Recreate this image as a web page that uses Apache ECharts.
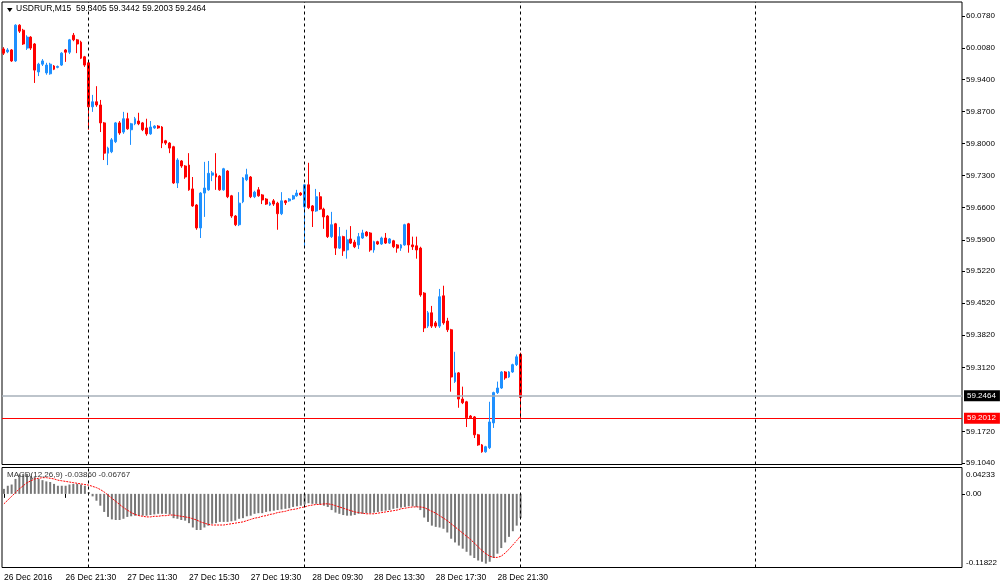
<!DOCTYPE html>
<html>
<head>
<meta charset="utf-8">
<script src="https://cdn.jsdelivr.net/npm/echarts@6/dist/echarts.min.js"></script>
<style>
html,body{margin:0;padding:0;background:#fff;}
#c{width:1000px;height:588px;}
</style>
</head>
<body>
<div id="c"></div>
<script>
// ---------- DATA ----------
const symbolTitle = 'USDRUR,M15  59.3405 59.3442 59.2003 59.2464';
const macdTitle = 'MACD(12,26,9) -0.03860 -0.06767';

// candles: [open, close, low, high]
const candles = [
[60.006,59.997,59.993,60.010],[60.000,60.004,59.997,60.008],[60.004,59.980,59.978,60.006],[59.980,60.058,59.978,60.060],
[60.058,60.045,60.041,60.060],[60.047,60.017,60.015,60.050],[60.008,60.032,60.004,60.036],[60.032,60.008,60.004,60.034],
[60.017,59.960,59.932,60.019],[59.956,59.973,59.947,59.976],[59.973,59.980,59.969,59.984],[59.954,59.971,59.950,59.976],
[59.952,59.973,59.950,59.976],[59.969,59.962,59.960,59.971],[59.966,59.968,59.964,59.970],[59.971,59.997,59.969,59.999],
[60.004,59.999,59.978,60.006],[59.999,60.026,59.995,60.028],[60.036,60.026,60.023,60.041],[60.026,60.017,59.997,60.028],
[60.021,59.986,59.984,60.024],[59.989,59.971,59.967,59.991],[59.976,59.880,59.830,59.978],[59.880,59.891,59.869,59.906],
[59.891,59.884,59.880,59.925],[59.884,59.845,59.825,59.895],[59.845,59.779,59.764,59.847],[59.779,59.790,59.753,59.793],
[59.782,59.808,59.779,59.812],[59.804,59.845,59.801,59.847],[59.845,59.823,59.819,59.849],[59.825,59.854,59.821,59.869],
[59.854,59.832,59.830,59.867],[59.830,59.843,59.797,59.845],[59.843,59.854,59.840,59.858],[59.849,59.843,59.840,59.867],
[59.845,59.830,59.827,59.847],[59.834,59.821,59.817,59.854],[59.821,59.836,59.819,59.849],[59.834,59.838,59.832,59.840],
[59.838,59.834,59.832,59.840],[59.836,59.801,59.790,59.838],[59.806,59.801,59.797,59.808],[59.801,59.790,59.779,59.803],
[59.793,59.714,59.712,59.795],[59.714,59.764,59.703,59.768],[59.762,59.751,59.747,59.764],[59.751,59.727,59.723,59.753],
[59.753,59.699,59.697,59.779],[59.701,59.664,59.662,59.727],[59.666,59.616,59.612,59.668],[59.616,59.692,59.594,59.694],
[59.692,59.703,59.640,59.760],[59.699,59.735,59.697,59.762],[59.731,59.736,59.718,59.740],[59.734,59.727,59.699,59.779],
[59.729,59.699,59.697,59.731],[59.699,59.745,59.697,59.747],[59.740,59.684,59.681,59.742],[59.686,59.642,59.638,59.688],
[59.642,59.623,59.620,59.644],[59.623,59.670,59.620,59.694],[59.673,59.725,59.670,59.727],[59.721,59.732,59.718,59.745],
[59.727,59.684,59.681,59.729],[59.684,59.694,59.681,59.697],[59.699,59.686,59.684,59.705],[59.688,59.677,59.668,59.690],
[59.679,59.668,59.666,59.681],[59.666,59.670,59.664,59.673],[59.675,59.668,59.664,59.679],[59.670,59.647,59.612,59.673],
[59.647,59.675,59.644,59.694],[59.675,59.671,59.666,59.677],[59.675,59.679,59.673,59.681],[59.679,59.686,59.677,59.688],
[59.686,59.692,59.684,59.699],[59.692,59.688,59.686,59.694],[59.662,59.710,59.574,59.712],[59.710,59.660,59.657,59.758],
[59.664,59.653,59.618,59.666],[59.653,59.684,59.651,59.701],[59.684,59.657,59.655,59.694],[59.657,59.640,59.614,59.660],
[59.642,59.597,59.594,59.644],[59.597,59.623,59.594,59.651],[59.625,59.572,59.557,59.627],[59.572,59.597,59.570,59.618],
[59.597,59.566,59.555,59.599],[59.568,59.590,59.549,59.612],[59.592,59.583,59.581,59.620],[59.585,59.575,59.572,59.590],
[59.579,59.597,59.570,59.605],[59.594,59.605,59.592,59.612],[59.607,59.599,59.597,59.609],[59.605,59.568,59.564,59.607],
[59.568,59.586,59.562,59.588],[59.586,59.581,59.579,59.588],[59.581,59.594,59.579,59.597],[59.594,59.583,59.581,59.605],
[59.583,59.592,59.581,59.594],[59.588,59.575,59.572,59.590],[59.579,59.572,59.562,59.581],[59.572,59.579,59.566,59.581],
[59.579,59.623,59.577,59.625],[59.625,59.579,59.562,59.627],[59.579,59.575,59.568,59.597],[59.577,59.568,59.549,59.597],
[59.572,59.470,59.466,59.575],[59.474,59.398,59.389,59.476],[59.402,59.431,59.398,59.435],[59.431,59.402,59.398,59.446],
[59.409,59.402,59.398,59.413],[59.402,59.466,59.398,59.483],[59.468,59.409,59.405,59.490],[59.413,59.394,59.389,59.420],
[59.394,59.291,59.259,59.396],[59.281,59.300,59.278,59.346],[59.300,59.243,59.224,59.302],[59.243,59.235,59.232,59.270],
[59.237,59.202,59.182,59.239],[59.206,59.202,59.200,59.208],[59.204,59.165,59.158,59.206],[59.165,59.143,59.141,59.167],
[59.143,59.128,59.126,59.145],[59.128,59.139,59.126,59.141],[59.137,59.193,59.134,59.237],[59.191,59.257,59.180,59.259],
[59.257,59.267,59.254,59.281],[59.267,59.302,59.265,59.304],[59.302,59.289,59.285,59.304],[59.291,59.302,59.289,59.304],
[59.302,59.318,59.300,59.320],[59.318,59.335,59.315,59.340],[59.3405,59.2464,59.2003,59.3442]
];

const macdHist = [
0.008,0.013,0.015,0.024,0.031,0.032,0.032,0.029,0.027,0.024,
0.022,0.020,0.019,0.016,0.013,0.013,0.013,0.015,0.016,0.016,
0.015,0.013,0.003,-0.004,-0.011,-0.019,-0.029,-0.037,-0.041,-0.042,
-0.042,-0.040,-0.037,-0.036,-0.035,-0.035,-0.035,-0.035,-0.034,-0.033,
-0.032,-0.032,-0.032,-0.033,-0.039,-0.040,-0.042,-0.043,-0.047,-0.054,
-0.058,-0.058,-0.054,-0.051,-0.048,-0.047,-0.045,-0.045,-0.045,-0.044,
-0.043,-0.040,-0.039,-0.036,-0.035,-0.032,-0.031,-0.031,-0.029,-0.028,
-0.027,-0.026,-0.025,-0.024,-0.023,-0.021,-0.020,-0.019,-0.017,-0.015,
-0.016,-0.016,-0.017,-0.019,-0.021,-0.026,-0.030,-0.032,-0.034,-0.035,
-0.035,-0.034,-0.032,-0.032,-0.031,-0.031,-0.030,-0.029,-0.028,-0.027,
-0.026,-0.024,-0.023,-0.022,-0.021,-0.020,-0.020,-0.021,-0.026,-0.038,
-0.045,-0.051,-0.053,-0.054,-0.056,-0.062,-0.072,-0.078,-0.083,-0.088,
-0.093,-0.099,-0.103,-0.107,-0.109,-0.112,-0.109,-0.103,-0.096,-0.087,
-0.078,-0.069,-0.060,-0.051,-0.0386
];

const macdSignal = [
-0.016,-0.010,-0.004,0.002,0.008,0.013,0.018,0.021,0.024,0.025,
0.026,0.026,0.025,0.024,0.022,0.021,0.020,0.019,0.018,0.017,
0.016,0.015,0.014,0.012,0.010,0.007,0.003,-0.002,-0.007,-0.012,
-0.017,-0.022,-0.026,-0.030,-0.033,-0.035,-0.036,-0.037,-0.037,-0.036,
-0.036,-0.035,-0.035,-0.034,-0.034,-0.035,-0.036,-0.037,-0.038,-0.040,
-0.042,-0.045,-0.047,-0.049,-0.050,-0.050,-0.050,-0.050,-0.049,-0.048,
-0.047,-0.046,-0.045,-0.043,-0.041,-0.039,-0.038,-0.036,-0.035,-0.033,
-0.032,-0.030,-0.029,-0.028,-0.026,-0.025,-0.024,-0.022,-0.021,-0.019,
-0.018,-0.017,-0.017,-0.016,-0.016,-0.017,-0.019,-0.021,-0.023,-0.025,
-0.027,-0.029,-0.030,-0.031,-0.032,-0.032,-0.032,-0.031,-0.030,-0.029,
-0.028,-0.027,-0.026,-0.024,-0.023,-0.022,-0.021,-0.021,-0.021,-0.022,
-0.025,-0.028,-0.031,-0.035,-0.039,-0.043,-0.048,-0.053,-0.058,-0.063,
-0.068,-0.073,-0.079,-0.085,-0.091,-0.096,-0.100,-0.102,-0.102,-0.100,
-0.095,-0.089,-0.082,-0.075,-0.06767
];

const priceTicks = [60.0780,60.0080,59.9400,59.8700,59.8000,59.7300,59.6600,59.5900,59.5220,59.4520,59.3820,59.3120,59.1720,59.1040];
const macdTicks = [0.04233, 0.00, -0.11822];
const xTickIdx = [0,16,32,48,64,80,96,112,128];
const xTickLabels = ['26 Dec 2016','26 Dec 21:30','27 Dec 11:30','27 Dec 15:30','27 Dec 19:30','28 Dec 09:30','28 Dec 13:30','28 Dec 17:30','28 Dec 21:30'];
const separatorIdx = [22,78,134,195];
const bidPrice = 59.2464;
const askPrice = 59.2012;

// categories: M15 bar times (sessions 09:00-22:45), plus empty future slots
const sessions = [['26 Dec','17:30'],['27 Dec','09:00'],['28 Dec','09:00'],['29 Dec','09:00'],['30 Dec','09:00'],['31 Dec','09:00']];
const TOTAL_SLOTS = 249;
const categories = [];
(function(){
  for (const [d, start] of sessions) {
    let [h, m] = start.split(':').map(Number);
    let t = h*60+m;
    while (t <= 22*60+45 && categories.length < TOTAL_SLOTS) {
      categories.push(d + ' ' + String(Math.floor(t/60)).padStart(2,'0') + ':' + String(t%60).padStart(2,'0'));
      t += 15;
    }
  }
})();

// ---------- CHART ----------
const FONT = 'Liberation Sans';
const chart = echarts.init(document.getElementById('c'), null, {renderer:'canvas'});
const labelMap = {};
xTickIdx.forEach((k,i)=>labelMap[k]=xTickLabels[i]);

const sepLines = separatorIdx.map(i => ({xAxis: categories[i]}));
const dashStyle = {color: '#000', type: [3,3], width: 1};
const GRID_W = 960;

chart.setOption({
  animation: false,
  backgroundColor: '#fff',
  textStyle: {fontFamily: FONT},
  title: [
    {text: symbolTitle, left: 16, top: 4, padding: 0,
     textStyle: {fontSize: 8.5, fontWeight: 'normal', color: '#000', fontFamily: FONT}},
    {text: macdTitle, left: 7, top: 471, padding: 0,
     textStyle: {fontSize: 8, fontWeight: 'normal', color: '#333', fontFamily: FONT}}
  ],
  graphic: [
    {type: 'polygon', shape: {points: [[7,8],[12.5,8],[9.75,12]]}, style: {fill: '#000'}, silent: true}
  ],
  grid: [
    {left: 2, right: 38, top: 2, height: 462.5, show: true, borderColor: '#000', borderWidth: 1, backgroundColor: 'transparent', containLabel: false, outerBoundsMode: 'none'},
    {left: 2, right: 38, top: 467.5, height: 100, show: true, borderColor: '#000', borderWidth: 1, backgroundColor: 'transparent', containLabel: false, outerBoundsMode: 'none'}
  ],
  xAxis: [
    {type: 'category', gridIndex: 0, data: categories, boundaryGap: true,
     axisLine: {show: false}, axisTick: {show: false}, axisLabel: {show: false}, splitLine: {show: false}},
    {type: 'category', gridIndex: 1, data: categories, boundaryGap: true,
     axisLine: {show: false},
     axisTick: {show: true, alignWithLabel: true, length: 4, lineStyle: {color: '#000'},
                interval: (idx) => labelMap[idx] !== undefined},
     axisLabel: {show: true, interval: (idx) => labelMap[idx] !== undefined,
                 formatter: (v, idx) => labelMap[idx] || '',
                 align: 'left', margin: 6, fontSize: 8.5, color: '#000', fontFamily: FONT},
     splitLine: {show: false}}
  ],
  yAxis: [
    {type: 'value', gridIndex: 0, position: 'right', min: 59.1003, max: 60.1085,
     axisLine: {show: false},
     axisTick: {show: true, customValues: priceTicks, length: 3, lineStyle: {color: '#000'}},
     axisLabel: {show: true, customValues: priceTicks, formatter: v => v.toFixed(4),
                 fontSize: 8, color: '#000', margin: 4, fontFamily: FONT},
     splitLine: {show: false}},
    {type: 'value', gridIndex: 1, position: 'right', min: -0.11822, max: 0.04233,
     axisLine: {show: false},
     axisTick: {show: true, customValues: [0], length: 3, lineStyle: {color: '#000'}},
     axisLabel: {show: true, customValues: macdTicks,
                 formatter: v => {
                   if (v > 0.01) return '{t|' + v.toFixed(5) + '}';
                   if (v < -0.01) return '{b|' + v.toFixed(5) + '}';
                   return '0.00';
                 },
                 rich: {t: {padding: [14,0,0,0], fontSize: 8, color: '#000'}, b: {padding: [0,0,10,0], fontSize: 8, color: '#000'}},
                 fontSize: 8, color: '#000', margin: 4, fontFamily: FONT},
     splitLine: {show: false}},
    // ask price level: drawn by an axis tick spanning the grid, with its boxed label
    {type: 'value', gridIndex: 0, position: 'right', min: 59.1003, max: 60.1085,
     axisLine: {show: false},
     axisTick: {show: true, inside: true, customValues: [askPrice], length: GRID_W, lineStyle: {color: '#FF0000', width: 1}},
     axisLabel: {show: true, customValues: [askPrice], formatter: v => v.toFixed(4),
                 color: '#fff', backgroundColor: '#FF0000', padding: [2,4,1,3], margin: 2, fontSize: 8, fontFamily: FONT},
     splitLine: {show: false}}
  ],
  series: [
    {type: 'candlestick', xAxisIndex: 0, yAxisIndex: 0, data: candles, barWidth: 2.4,
     itemStyle: {color: '#1E90FF', color0: '#FF0000', borderColor: '#1E90FF', borderColor0: '#FF0000', borderWidth: 1},
     markLine: {silent: true, symbol: 'none', label: {show: false}, lineStyle: dashStyle, data: sepLines}
    },
    {type: 'line', name: 'bid', xAxisIndex: 0, yAxisIndex: 0, data: [], symbol: 'none', color: '#A7B1BA',
     markLine: {silent: true, symbol: 'none',
       data: [{yAxis: bidPrice}],
       lineStyle: {color: '#A7B1BA', type: 'solid', width: 1.5},
       label: {show: true, position: 'end', distance: 2, formatter: bidPrice.toFixed(4), color: '#fff', backgroundColor: '#000', padding: [2,4,1,3], fontSize: 8, fontFamily: FONT}}
    },
    {type: 'bar', xAxisIndex: 1, yAxisIndex: 1, data: macdHist, barWidth: 2,
     itemStyle: {color: '#777777'},
     markLine: {silent: true, symbol: 'none', label: {show: false}, lineStyle: dashStyle, data: sepLines}
    },
    {type: 'line', xAxisIndex: 1, yAxisIndex: 1, data: macdSignal, symbol: 'none', smooth: false,
     lineStyle: {color: '#FF0000', width: 1, type: [2,1]}}
  ]
});
</script>
</body>
</html>
